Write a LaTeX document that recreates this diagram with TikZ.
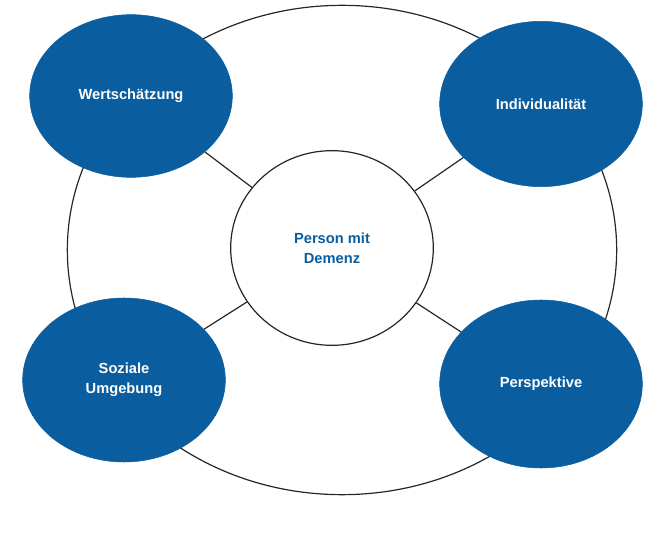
\documentclass[tikz,border=0pt]{standalone}
\usepackage{fontspec}
\setmainfont{Liberation Sans}
\usetikzlibrary{shapes.geometric}
\definecolor{demblue}{RGB}{10,94,160}
\tikzset{
  aspect/.style={ellipse, fill=demblue, draw=demblue, text=white, inner sep=0pt,
    align=center, font=\bfseries\fontsize{11}{15}\selectfont},
  link/.style={draw=black!85, line width=0.9pt}
}
\begin{document}
\begin{tikzpicture}[x=0.75pt,y=-0.75pt]
 \useasboundingbox (0,0) rectangle (672,538);
 % outer ring
 \node[ellipse, draw=black!85, line width=0.9pt, minimum width=412pt, minimum height=367pt] (ring) at (342,250) {};

 % centre
 \node[ellipse, draw=black!85, line width=0.9pt, fill=white, text=demblue,
   minimum width=152pt, minimum height=146pt, align=center,
   font=\bfseries\fontsize{11}{15}\selectfont] (person) at (332,248) {Person mit\\Demenz};

 % aspects
 \node[aspect, minimum width=152pt, minimum height=122pt] (wert) at (131,96) {Wertschätzung};
 \node[aspect, minimum width=152pt, minimum height=124pt] (indiv) at (541,104) {Individualität};
 \node[aspect, minimum width=152pt, minimum height=123pt] (sozial) at (124,380) {Soziale\\Umgebung};
 \node[aspect, minimum width=152pt, minimum height=126pt] (persp) at (541,384) {Perspektive};

 \draw[link] (person) -- (wert);
 \draw[link] (person) -- (indiv);
 \draw[link] (person) -- (sozial);
 \draw[link] (person) -- (persp);
\end{tikzpicture}
\end{document}
